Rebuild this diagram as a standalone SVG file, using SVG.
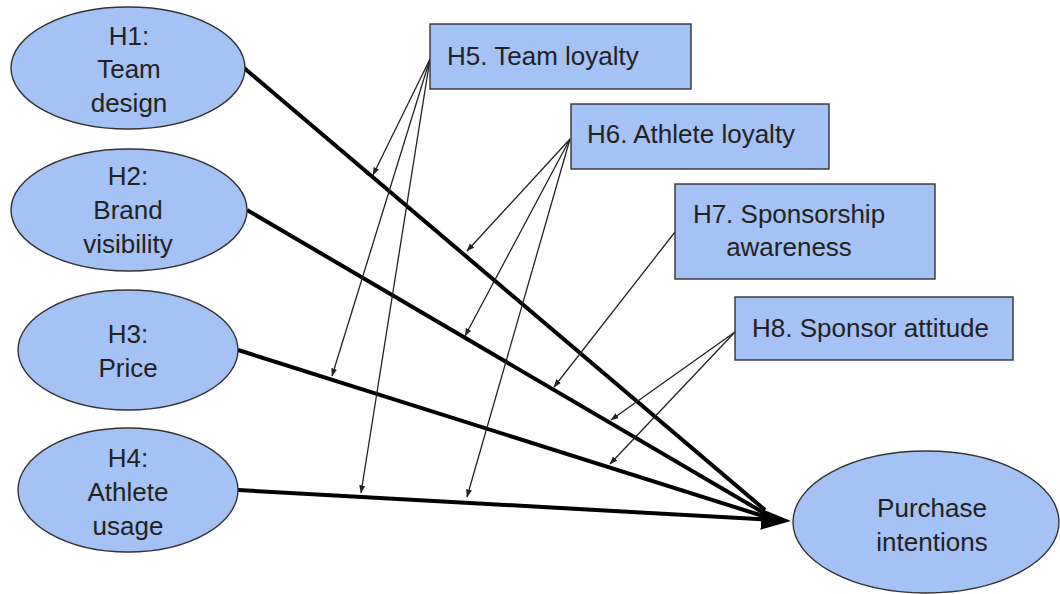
<svg xmlns="http://www.w3.org/2000/svg" width="1060" height="594" viewBox="0 0 1060 594">
  <style>
    .node { fill: #a4c2f4; stroke: #333333; stroke-width: 1.4; }
    .label { font-family: "Liberation Sans", Arial, sans-serif; font-size: 26px; fill: #222222; }
    .mid { text-anchor: middle; }
    .main { stroke: #000000; stroke-width: 4; fill: none; }
    .mod { stroke: #222222; stroke-width: 1.3; fill: none; marker-end: url(#smallHead); }
  </style>
  <defs>
    <marker id="bigHead" markerUnits="userSpaceOnUse" markerWidth="32" markerHeight="24" refX="1" refY="11" orient="auto">
      <path d="M0,0.5 L30,11 L0,21.5 z" fill="#000000"/>
    </marker>
    <marker id="smallHead" markerUnits="userSpaceOnUse" markerWidth="9" markerHeight="8" refX="7.5" refY="3.5" orient="auto">
      <path d="M0,0.5 L8,3.5 L0,6.5 z" fill="#222222"/>
    </marker>
  </defs>

  <rect width="1060" height="594" fill="#ffffff"/>

  <!-- connectors -->
  <g id="connectors">
    <!-- direct effects -->
    <line class="main" x1="243" y1="67" x2="765" y2="510"/>
    <line class="main" x1="247" y1="210" x2="764" y2="513"/>
    <line class="main" x1="238" y1="350" x2="763" y2="516"/>
    <line class="main" x1="238" y1="490" x2="762" y2="519.3" marker-end="url(#bigHead)"/>
    <!-- moderators -->
    <line class="mod" x1="430" y1="59" x2="373" y2="175"/>
    <line class="mod" x1="430" y1="59" x2="332" y2="376"/>
    <line class="mod" x1="430" y1="59" x2="361" y2="493"/>
    <line class="mod" x1="570" y1="139" x2="467" y2="251"/>
    <line class="mod" x1="570" y1="139" x2="465" y2="336"/>
    <line class="mod" x1="570" y1="139" x2="467" y2="497"/>
    <line class="mod" x1="675" y1="232" x2="554" y2="387"/>
    <line class="mod" x1="735" y1="332" x2="611" y2="420"/>
    <line class="mod" x1="735" y1="332" x2="610" y2="464"/>
  </g>

  <g id="h1">
    <ellipse class="node" cx="128" cy="68" rx="117" ry="61"/>
    <text class="label mid" x="129" y="45">H1:</text>
    <text class="label mid" x="129" y="78">Team</text>
    <text class="label mid" x="129" y="112">design</text>
  </g>
  <g id="h2">
    <ellipse class="node" cx="129" cy="210" rx="118" ry="61"/>
    <text class="label mid" x="128" y="185">H2:</text>
    <text class="label mid" x="128" y="219">Brand</text>
    <text class="label mid" x="128" y="253">visibility</text>
  </g>
  <g id="h3">
    <ellipse class="node" cx="128" cy="350" rx="110" ry="60"/>
    <text class="label mid" x="128" y="343">H3:</text>
    <text class="label mid" x="128" y="377">Price</text>
  </g>
  <g id="h4">
    <ellipse class="node" cx="128" cy="490" rx="110" ry="62"/>
    <text class="label mid" x="128" y="467">H4:</text>
    <text class="label mid" x="128" y="501">Athlete</text>
    <text class="label mid" x="128" y="535">usage</text>
  </g>
  <g id="purchase">
    <ellipse class="node" cx="926" cy="522" rx="133" ry="71"/>
    <text class="label mid" x="932" y="517">Purchase</text>
    <text class="label mid" x="932" y="551">intentions</text>
  </g>

  <g id="h5">
    <rect class="node" x="430" y="24" width="261" height="65"/>
    <text class="label" x="447" y="65">H5. Team loyalty</text>
  </g>
  <g id="h6">
    <rect class="node" x="571" y="104" width="258" height="65"/>
    <text class="label" x="587" y="143">H6. Athlete loyalty</text>
  </g>
  <g id="h7">
    <rect class="node" x="675" y="184" width="260" height="95"/>
    <text class="label mid" x="789" y="223">H7. Sponsorship</text>
    <text class="label mid" x="789" y="256">awareness</text>
  </g>
  <g id="h8">
    <rect class="node" x="735" y="297" width="278" height="63"/>
    <text class="label" x="752" y="337">H8. Sponsor attitude</text>
  </g>
</svg>
